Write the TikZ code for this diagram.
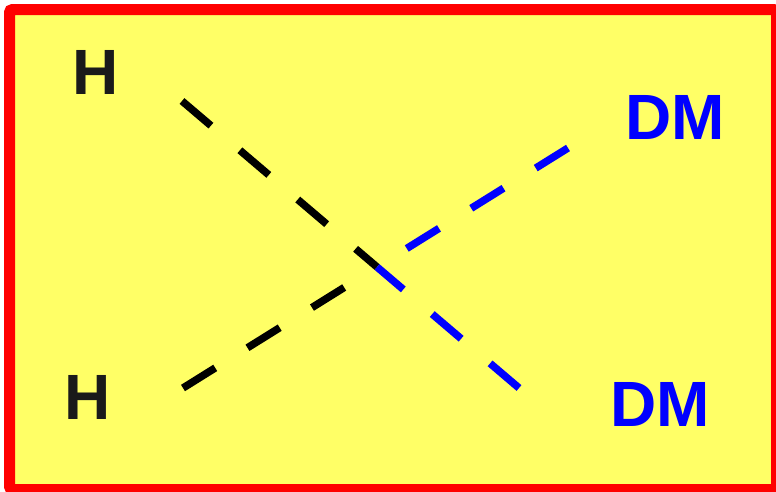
\documentclass[tikz,border=0pt]{standalone}
\usepackage{fontspec}
\setmainfont{Liberation Sans}
\definecolor{bgyellow}{HTML}{FFFF66}
\definecolor{frred}{HTML}{FF0000}
\definecolor{dmblue}{HTML}{0000FF}
\definecolor{hblack}{HTML}{1A1A1A}
\tikzset{
  lbl/.style={inner sep=0pt, anchor=center, font=\fontsize{64}{64}\selectfont\bfseries},
  dashline/.style={line width=7.5pt, dash pattern=on 38pt off 38pt},
}
\begin{document}
\begin{tikzpicture}[x=1pt,y=-1pt]
\useasboundingbox (0,0) rectangle (776,491);
\draw[frred, fill=bgyellow, line width=11pt, rounded corners=3pt] (9.5,9.5) rectangle (776.5,489.5);
\node[lbl, text=hblack] (H1) at (96,72) {H};
\node[lbl, text=hblack] (H2) at (88,397) {H};
\node[lbl, text=dmblue] (DM1) at (675,117) {DM};
\node[lbl, text=dmblue] (DM2) at (660,404.5) {DM};
\coordinate (X) at (377,267);
\coordinate (a1) at (182,101);
\coordinate (a2) at (519,388);
\coordinate (b1) at (183,388);
\coordinate (b2) at (568,148);
\draw[dashline, black] (b1) -- (X);
\draw[dashline, dmblue] (b2) -- (X);
\draw[dashline, black] (a1) -- (X);
\draw[dashline, dmblue] (a2) -- (X);
\end{tikzpicture}
\end{document}
